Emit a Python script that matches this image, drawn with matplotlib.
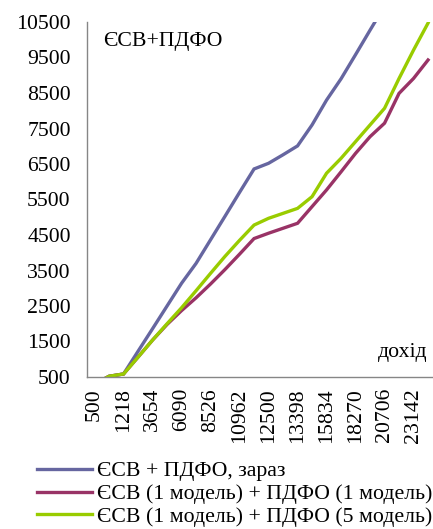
import matplotlib
matplotlib.use('Agg')
import matplotlib.pyplot as plt
import numpy as np

plt.rcParams['font.family'] = ['Liberation Serif', 'DejaVu Serif']

# income levels (every other one is labelled on the axis)
income = [500, 1000, 1218, 2436, 3654, 4872, 6090, 7308, 8526, 9744, 10962, 12180,
          12500, 13000, 13398, 14616, 15834, 17052, 18270, 19488, 20706, 21924, 23142, 24360]
now_tax = [300, 520, 585, 1225, 1860, 2500, 3140, 3700, 4365, 5030, 5700, 6360,
           6520, 6760, 7010, 7600, 8300, 8900, 9580, 10270, 10950, 11600, 12250, 12900]
model_1_1 = [300, 520, 585, 1060, 1540, 1980, 2370, 2730, 3120, 3530, 3960, 4400,
             4550, 4690, 4830, 5300, 5770, 6280, 6800, 7270, 7650, 8490, 8910, 9430]
model_1_5 = [300, 520, 585, 1060, 1540, 2000, 2450, 2930, 3420, 3900, 4350, 4780,
             4970, 5110, 5250, 5580, 6240, 6660, 7130, 7600, 8070, 8910, 9710, 10470]
labels = ['ЄСВ + ПДФО, зараз',
          'ЄСВ (1 модель) + ПДФО (1 модель)',
          'ЄСВ (1 модель) + ПДФО (5 модель)']
colors = ['#6666a0', '#993366', '#99cc00']

fs = 15.7
W, H = 433, 529
fig = plt.figure(figsize=(W / 100, H / 100), dpi=100)
ax = fig.add_axes([87.3 / W, (H - 377) / H, 348 / W, 355 / H])

x = np.arange(len(income))
for ys, lab, c in zip([now_tax, model_1_1, model_1_5], labels, colors):
    ax.plot(x, ys, color=c, lw=2.4, label=lab, solid_joinstyle='miter')

ax.set_xlim(-0.5, len(income) - 0.5)
ax.set_ylim(500, 10500)
ax.set_yticks(np.arange(500, 10501, 1000))
ax.set_xticks(x[::2])
ax.set_xticklabels([str(v) for v in income[::2]], rotation=90, va='top', ha='center')
ax.tick_params(axis='both', length=0, labelsize=fs)
ax.tick_params(axis='y', pad=12)
ax.tick_params(axis='x', pad=8)
for s in ['top', 'right']:
    ax.spines[s].set_visible(False)
for s in ['left', 'bottom']:
    ax.spines[s].set_color('#868686')
    ax.spines[s].set_linewidth(1)

ax.text(0.045, 0.944, 'ЄСВ+ПДФО', transform=ax.transAxes, fontsize=fs, va='center', ha='left')
ax.text(0.979, 0.07, 'дохід', transform=ax.transAxes, fontsize=fs, va='center', ha='right')

fig.legend(loc='upper left', bbox_to_anchor=(37 / W, 1 - 461 / H), frameon=False,
           fontsize=fs, handlelength=2.5, handletextpad=0.25, labelspacing=0.12,
           borderpad=0, borderaxespad=0)

plt.savefig('out.png', dpi=100)
